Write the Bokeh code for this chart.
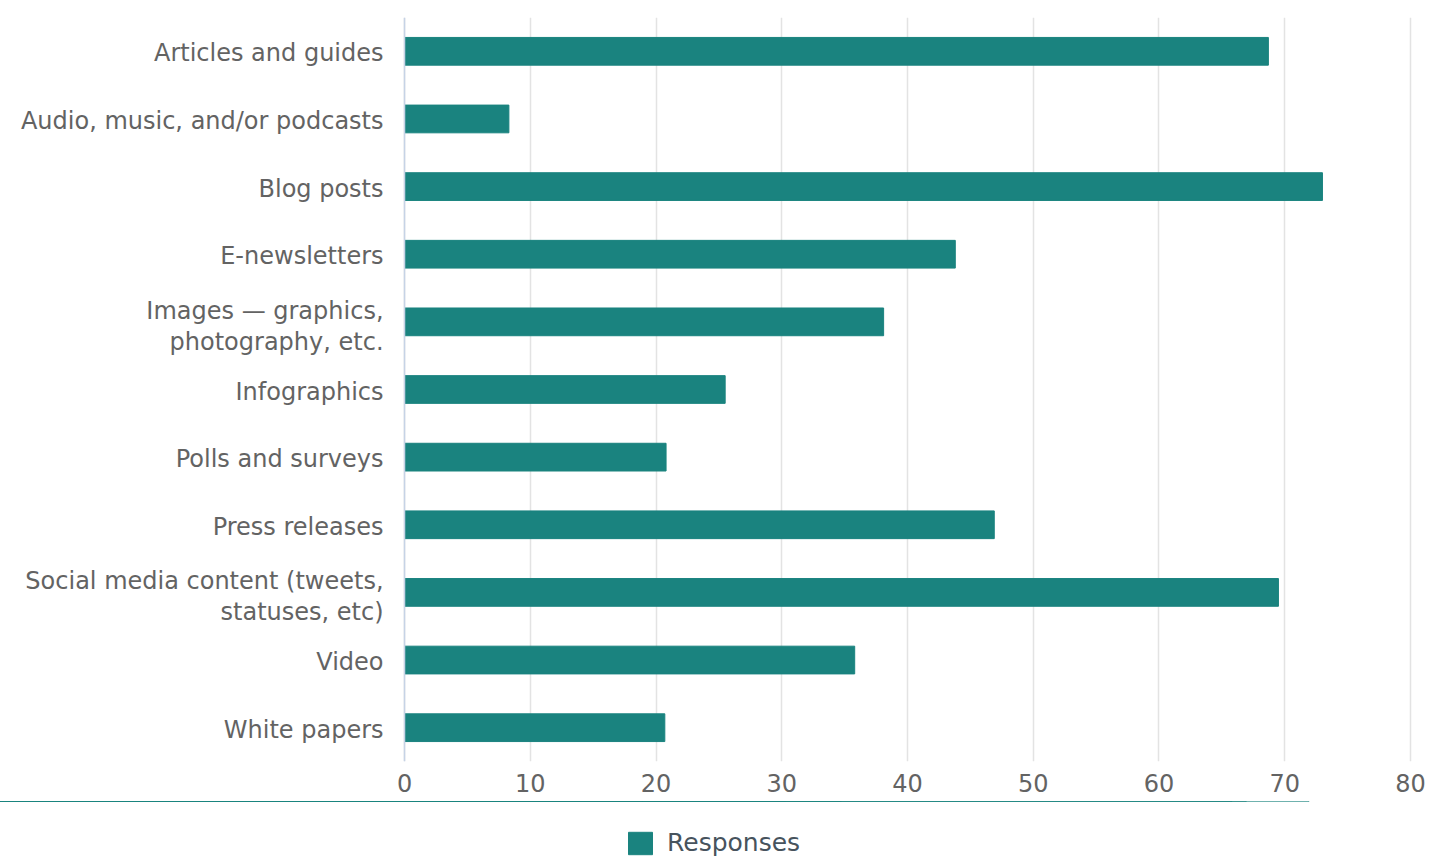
from bokeh.plotting import figure
from bokeh.layouts import column
from bokeh.models import Range1d, FactorRange, Legend, LegendItem, Span, ColumnDataSource
from bokeh.embed import file_html
from bokeh.resources import INLINE
from bokeh.core.properties import value

categories = [
    "Articles and guides",
    "Audio, music, and/or podcasts",
    "Blog posts",
    "E-newsletters",
    "Images — graphics, photography, etc.",
    "Infographics",
    "Polls and surveys",
    "Press releases",
    "Social media content (tweets, statuses, etc)",
    "Video",
    "White papers",
]
responses = [68.7, 8.3, 73.0, 43.8, 38.1, 25.5, 20.8, 46.9, 69.5, 35.8, 20.7]
x_ticks = [0, 10, 20, 30, 40, 50, 60, 70, 80]
series_name = "Responses"
wrapped_labels = {
    "Images — graphics, photography, etc.": ["Images — graphics,", "photography, etc."],
    "Social media content (tweets, statuses, etc)": ["Social media content (tweets,", "statuses, etc)"],
}

BAR = "#1a837f"
TEXT = "#636363"
FONT = "DejaVu Sans"
FS = "24px"

factors = list(reversed(categories))
p = figure(
    frame_width=1434, frame_height=744,
    y_range=FactorRange(factors=factors, range_padding=0),
    x_range=Range1d(-32.13, 81.91),
    output_backend="svg", toolbar_location=None,
    min_border_left=0, min_border_right=0, min_border_top=17, min_border_bottom=40,
)
p.outline_line_color = None

r = p.hbar(y=categories, right=responses, left=0, height=0.41,
           fill_color=BAR, line_color=BAR)

# category axis line
p.add_layout(Span(location=0, dimension="height", line_color="#c6d3e6", line_width=1.5))

# category labels, right-aligned left of the axis line
lab_y, lab_text, lab_off = [], [], []
for cat in categories:
    lines = wrapped_labels.get(cat, [cat])
    offs = [2] if len(lines) == 1 else [-11, 20]
    for line, off in zip(lines, offs):
        lab_y.append(cat)
        lab_text.append(line)
        lab_off.append(off)
src = ColumnDataSource(dict(x=[0] * len(lab_y), y=lab_y, text=lab_text, off=lab_off))
p.text(x="x", y="y", text="text", y_offset="off", x_offset=-21, source=src,
       text_align="right", text_baseline="middle",
       text_font=value(FONT), text_font_size=FS, text_color=TEXT)

p.xaxis.ticker = x_ticks
p.xaxis.axis_line_color = None
p.xaxis.major_tick_line_color = None
p.xaxis.minor_tick_line_color = None
p.xaxis.major_label_text_font = FONT
p.xaxis.major_label_text_font_size = FS
p.xaxis.major_label_text_color = TEXT
p.xaxis.major_label_standoff = 6

p.yaxis.visible = False

p.xgrid.grid_line_color = "#e3e3e3"
p.xgrid.grid_line_width = 1.5
p.ygrid.grid_line_color = None

# legend strip below the chart (its series renderer lies outside this strip's view)
leg = figure(width=1434, height=56, output_backend="svg", toolbar_location=None,
             x_range=Range1d(0, 80), y_range=Range1d(-100, -99),
             min_border_left=0, min_border_right=0, min_border_top=0, min_border_bottom=0)
leg.outline_line_color = None
leg.axis.visible = False
leg.grid.visible = False
proxy = leg.hbar(y=list(range(len(responses))), right=responses, left=0, height=0.41,
                 fill_color=BAR, line_color=BAR)

legend = Legend(items=[LegendItem(label=series_name, renderers=[proxy])],
                orientation="horizontal", location=(625, 0),
                label_text_font=FONT, label_text_font_size="25px",
                label_text_color="#47535d",
                glyph_width=30, glyph_height=28, label_standoff=12,
                border_line_color=None,
                background_fill_alpha=0, margin=0, padding=2)
leg.add_layout(legend, "center")

layout = column(p, leg, spacing=0)
open("out.html", "w").write(file_html(layout, INLINE))
